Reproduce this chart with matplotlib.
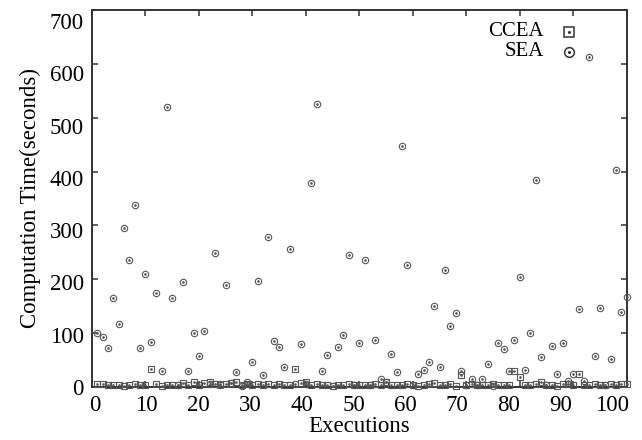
import matplotlib
matplotlib.use("Agg")
import matplotlib.pyplot as plt
import matplotlib.transforms as mtransforms
import numpy as np

executions = list(range(1, 101))

sea = [100, 93, 72, 165, 117, 296, 235, 338, 72, 209,
       83, 175, 29, 520, 166, 3, 195, 29, 101, 57,
       104, 5, 248, 6, 189, 7, 28, 2, 10, 47,
       197, 23, 278, 85, 74, 37, 256, 5, 79, 6,
       379, 525, 30, 60, 1, 74, 97, 246, 3, 81,
       236, 4, 88, 15, 9, 61, 27, 448, 227, 3,
       25, 32, 47, 150, 38, 217, 113, 137, 30, 4,
       14, 3, 14, 42, 2, 81, 71, 29, 87, 204,
       32, 100, 384, 56, 3, 77, 25, 82, 11, 25,
       145, 12, 613, 58, 147, 3, 52, 403, 139, 168]

ccea = [5, 5, 4, 3, 4, 2, 4, 6, 3, 4, 33, 5, 2, 3, 3, 4, 7, 4, 9, 4,
        8, 10, 5, 3, 6, 8, 10, 4, 6, 3, 5, 3, 5, 4, 6, 3, 4, 33, 8, 9,
        3, 6, 4, 3, 2, 4, 3, 5, 4, 3, 4, 3, 5, 3, 10, 4, 3, 4, 5, 3,
        2, 4, 5, 8, 3, 4, 5, 2, 22, 4, 6, 3, 4, 3, 5, 4, 3, 4, 29, 18,
        3, 4, 5, 9, 3, 4, 2, 6, 5, 3, 24, 3, 4, 5, 3, 4, 5, 4, 6, 5]

x_ticks = list(range(0, 101, 10))
y_ticks = list(range(0, 701, 100))

plt.rcParams['font.family'] = ['Liberation Serif', 'DejaVu Serif']

fig = plt.figure(figsize=(6.42, 4.40), dpi=100)
ax = fig.add_axes([92/642, 53/440, (626.7-92)/642, (387-10)/440])

mc = '#555555'
ax.plot(executions, ccea, linestyle='none', marker='s', markersize=4.2,
        markerfacecolor='none', markeredgecolor=mc, markeredgewidth=0.8, clip_on=False, zorder=3)
ax.plot(executions, ccea, linestyle='none', marker='o', markersize=0.9,
        color=mc, clip_on=False, zorder=3)
ax.plot(executions, sea, linestyle='none', marker='o', markersize=4.6,
        markerfacecolor='none', markeredgecolor=mc, markeredgewidth=0.8, clip_on=False, zorder=3)
ax.plot(executions, sea, linestyle='none', marker='o', markersize=0.9,
        color=mc, clip_on=False, zorder=3)

ax.set_xlim(0, 100)
ax.set_ylim(0, 700)
ax.set_xticks(x_ticks)
ax.set_yticks(y_ticks)
ax.tick_params(direction='in', length=4, width=1.1, color='#333333',
               top=True, right=True, labelsize=16.5, pad=6)
for s in ax.spines.values():
    s.set_linewidth(1.4)
    s.set_color('#333333')

# the reference's tick labels sit slightly compressed relative to the ticks
for k, lab in enumerate(ax.get_xticklabels()):
    dx = 3 - 1.77 * k
    lab.set_transform(lab.get_transform() + mtransforms.ScaledTranslation(dx/100, 0, fig.dpi_scale_trans))
for k, lab in enumerate(ax.get_yticklabels()):
    dy = -1.6 * k
    lab.set_transform(lab.get_transform() + mtransforms.ScaledTranslation(0, dy/100, fig.dpi_scale_trans))

ax.set_xlabel('Executions', fontsize=16.5, labelpad=0)
ax.set_ylabel('Computation Time(seconds)', fontsize=16.5, labelpad=6)

# legend
ax.text(0.845, 0.9425, 'CCEA', ha='right', va='center', fontsize=15, transform=ax.transAxes)
ax.text(0.845, 0.889, 'SEA', ha='right', va='center', fontsize=15, transform=ax.transAxes)
ax.plot([0.892], [0.9425], marker='s', markersize=6.5, markerfacecolor='none',
        markeredgecolor='#333333', markeredgewidth=1.1, transform=ax.transAxes, clip_on=False)
ax.plot([0.892], [0.9425], marker='o', markersize=1.2, color='#333333', transform=ax.transAxes)
ax.plot([0.892], [0.889], marker='o', markersize=7, markerfacecolor='none',
        markeredgecolor='#333333', markeredgewidth=1.1, transform=ax.transAxes, clip_on=False)
ax.plot([0.892], [0.889], marker='o', markersize=1.2, color='#333333', transform=ax.transAxes)

fig.savefig('out.png', dpi=100)
